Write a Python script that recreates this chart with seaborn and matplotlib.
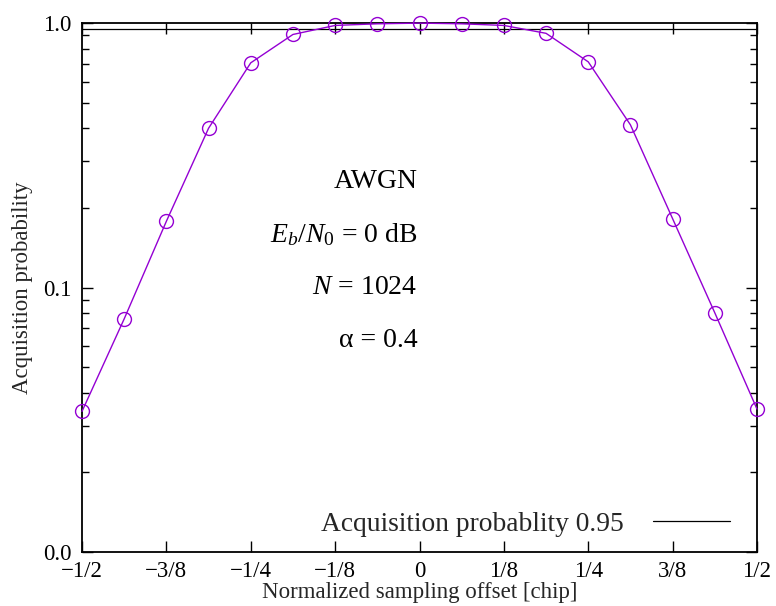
import numpy as np
import pandas as pd
import matplotlib
matplotlib.use("Agg")
import matplotlib.pyplot as plt
import seaborn as sns
from matplotlib.ticker import LogLocator, NullFormatter

# Sampling offsets in chips (-1/2 .. 1/2, step 1/16) and measured acquisition probability
offsets = [-8/16, -7/16, -6/16, -5/16, -4/16, -3/16, -2/16, -1/16, 0,
           1/16, 2/16, 3/16, 4/16, 5/16, 6/16, 7/16, 8/16]
acq_prob = [0.0340, 0.0761, 0.178, 0.400, 0.707, 0.905, 0.979, 0.993, 0.999,
            0.993, 0.979, 0.914, 0.713, 0.412, 0.182, 0.0802, 0.0347]
threshold = 0.95

xtick_vals = [-1/2, -3/8, -1/4, -1/8, 0, 1/8, 1/4, 3/8, 1/2]
xtick_labels = ["\u22121/2", "\u22123/8", "\u22121/4", "\u22121/8", "0", "1/8", "1/4", "3/8", "1/2"]
ytick_vals = [0.01, 0.1, 1.0]
ytick_labels = ["0.0", "0.1", "1.0"]

params = ["AWGN", r"$E_b/N_0$ = 0 dB", r"$N$ = 1024", "\u03b1 = 0.4"]
param_ypos = [0.70, 0.60, 0.50, 0.40]

sns.set_theme(style="ticks")
plt.rcParams["font.family"] = ["Liberation Serif", "DejaVu Serif"]
plt.rcParams["mathtext.fontset"] = "custom"
plt.rcParams["mathtext.rm"] = "Liberation Serif"
plt.rcParams["mathtext.it"] = "Liberation Serif:italic"

df = pd.DataFrame({"offset": offsets, "prob": acq_prob})

fig = plt.figure(figsize=(7.76, 6.06), dpi=100)
ax = fig.add_axes([82/776, 1 - 552/606, 675/776, 529/606])

curve_color = "#9400d3"
sns.lineplot(data=df, x="offset", y="prob", ax=ax, color=curve_color, linewidth=1.0,
             marker="o", markersize=10, markerfacecolor="none",
             markeredgecolor=curve_color, markeredgewidth=1.0, clip_on=False,
             zorder=3)

ax.axhline(threshold, color="black", linewidth=0.9,
           label=f"Acquisition probablity {threshold}")

ax.set_yscale("log")
ax.set_xlim(-0.5, 0.5)
ax.set_ylim(0.01, 1.0)

ax.set_xticks(xtick_vals)
ax.set_xticklabels(xtick_labels)
ax.set_yticks(ytick_vals)
ax.set_yticklabels(ytick_labels)
ax.yaxis.set_minor_locator(LogLocator(base=10, subs=np.arange(2, 10)))
ax.yaxis.set_minor_formatter(NullFormatter())

ax.tick_params(axis="both", which="major", direction="in", length=8, width=1.0,
               labelsize=16.5, top=True, right=True, color="black",
               labelcolor="black")
ax.tick_params(axis="x", which="major", pad=6.5)
ax.tick_params(axis="y", which="major", pad=7.5)
ax.tick_params(axis="y", which="minor", direction="in", length=5, width=1.0,
               left=True, right=True, color="black")

for side in ["left", "right", "top", "bottom"]:
    ax.spines[side].set_visible(True)
    ax.spines[side].set_linewidth(1.3)
    ax.spines[side].set_color("black")

ax.set_xlabel("Normalized sampling offset [chip]", fontsize=16.5, labelpad=0)
ax.set_ylabel("Acquisition probability", fontsize=16.5, labelpad=7)

for txt, yp in zip(params, param_ypos):
    ax.text(0.497, yp, txt, transform=ax.transAxes, ha="right", va="center",
            fontsize=20, color="black")

ax.legend(loc="center right", bbox_to_anchor=(0.96, 0.053), frameon=False,
          markerfirst=False, handlelength=2.8, handletextpad=1.05,
          borderpad=0, borderaxespad=0, fontsize=19.8)

fig.savefig("out.png", dpi=100, facecolor="white")
